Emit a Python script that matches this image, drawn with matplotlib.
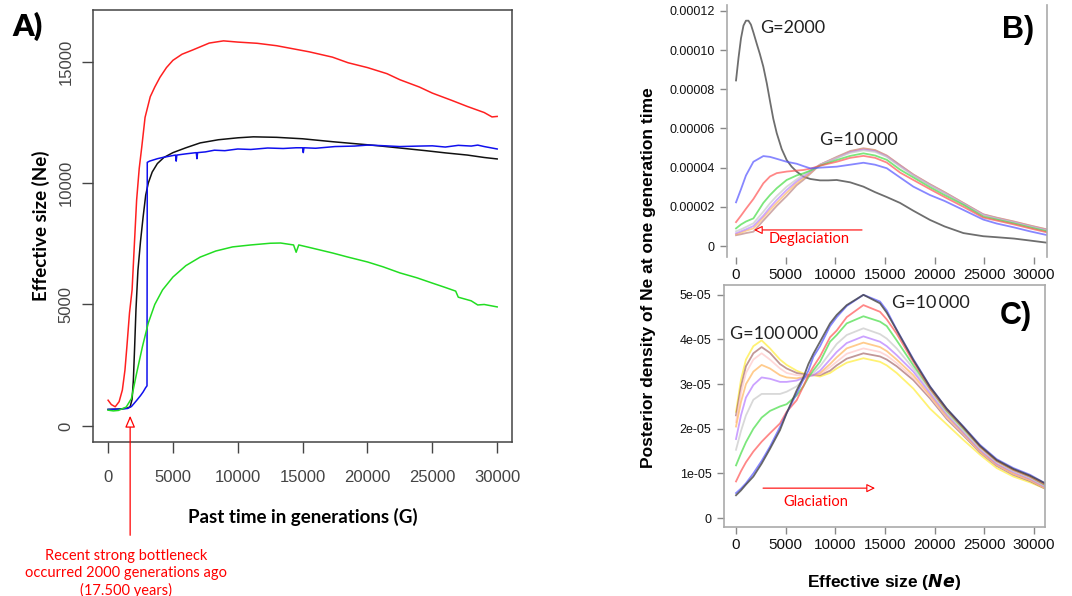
import matplotlib
matplotlib.use('Agg')
import matplotlib.pyplot as plt

plt.rcParams['font.family'] = ['Liberation Sans', 'DejaVu Sans']

# ---------------- panel A: Ne through time ----------------
a_red_x = [0, 250, 550, 850, 1100, 1300, 1450, 1650, 1850, 2000, 2200, 2400, 2600, 2850, 3250, 3600,
           4000, 4500, 5000, 5700, 6500, 7800, 8900, 10000, 11500, 13000, 14300, 15500, 17300, 18500,
           20000, 21500, 22500, 24000, 25000, 26500, 27700, 29000, 29600, 30000]
a_red_y = [1060, 880, 790, 1000, 1480, 2300, 3270, 4650, 5600, 7200, 9300, 10600, 11500, 12700, 13550,
           13950, 14350, 14750, 15050, 15300, 15470, 15760, 15850, 15800, 15750, 15650, 15520, 15400,
           15180, 14950, 14750, 14500, 14250, 13950, 13700, 13400, 13150, 12900, 12720, 12740]

a_blk_x = [0, 500, 1000, 1500, 1700, 1850, 1950, 2050, 2150, 2300, 2500, 2700, 2900, 3100, 3400, 3800,
           4300, 5000, 6000, 7100, 8500, 10000, 11200, 13000, 15000, 17300, 19000, 20500, 22500, 24500,
           26000, 27700, 29000, 30000]
a_blk_y = [680, 690, 700, 740, 790, 1100, 1900, 3300, 4800, 6400, 7600, 8600, 9500, 10000, 10450, 10800,
           11050, 11250, 11450, 11650, 11780, 11860, 11900, 11880, 11820, 11700, 11620, 11550, 11440,
           11330, 11240, 11150, 11050, 10990]

a_blu_x = [0, 800, 1500, 1800, 2200, 2500, 2700, 2900, 3000, 3020, 3200, 3500, 3800, 4200, 4700, 5200,
           5250, 5300, 6000, 6800, 6850, 6900, 7500, 8200, 9000, 10000, 11000, 12300, 13500, 14500,
           15000, 15050, 15100, 16000, 17500, 19000, 20000, 21000, 22500, 24000, 25000, 26000, 27000,
           28000, 28500, 29000, 30000]
a_blu_y = [680, 690, 720, 800, 1050, 1250, 1400, 1580, 1650, 10850, 10900, 10950, 11000, 11050, 11100,
           11150, 10900, 11150, 11200, 11250, 11000, 11250, 11280, 11350, 11330, 11400, 11380, 11440,
           11420, 11450, 11450, 11250, 11450, 11430, 11500, 11520, 11560, 11540, 11500, 11520, 11530,
           11480, 11550, 11520, 11560, 11500, 11400]

a_grn_x = [0, 400, 800, 1400, 1800, 2200, 2650, 3100, 3600, 4200, 5000, 6000, 7100, 8300, 9600, 11000,
           12500, 13300, 14300, 14500, 14700, 15500, 17300, 18500, 20000, 21200, 22500, 23800, 25000,
           26000, 26800, 27000, 28000, 28500, 29000, 30000]
a_grn_y = [650, 620, 640, 780, 1130, 2170, 3270, 4240, 5000, 5600, 6130, 6600, 6950, 7200, 7370, 7450,
           7520, 7530, 7450, 7150, 7450, 7350, 7120, 6950, 6750, 6550, 6300, 6100, 5880, 5700, 5550,
           5300, 5150, 4980, 5000, 4900]

a_xticks = [0, 5000, 10000, 15000, 20000, 25000, 30000]
a_yticks = [0, 5000, 10000, 15000]

# ---------------- panel B: posterior densities, deglaciation ----------------
# values in units of 1e-5
b_gx = [0, 250, 500, 750, 1000, 1250, 1500, 1750, 2100, 2400, 2750, 3100, 3420, 3750, 4100, 4600, 5100,
        5600, 6100, 6780, 7500, 8460, 9300, 10140, 11500, 12830, 14000, 15180, 16515, 17860, 19540,
        21000, 22900, 24900, 26240, 28000, 29600, 31300]
b_g2000 = [8.45, 9.6, 10.6, 11.25, 11.5, 11.5, 11.3, 10.9, 10.3, 9.8, 9.15, 8.3, 7.4, 6.5, 5.76, 4.95,
           4.39, 4.05, 3.8, 3.54, 3.42, 3.35, 3.35, 3.37, 3.25, 3.03, 2.75, 2.5, 2.2, 1.8, 1.33, 1.0,
           0.66, 0.5, 0.45, 0.38, 0.28, 0.17]

b_x = [0, 500, 1000, 1750, 2750, 3420, 4100, 5100, 6100, 6780, 7500, 8460, 10140, 11500, 12830, 14000,
       15180, 16515, 17860, 19540, 21000, 22900, 24900, 26240, 28000, 29600, 31300]
b_blue = [2.23, 2.9, 3.6, 4.3, 4.59, 4.55, 4.45, 4.3, 4.2, 4.08, 3.96, 4.0, 4.05, 4.15, 4.25, 4.15,
          3.97, 3.5, 3.03, 2.6, 2.3, 1.84, 1.35, 1.15, 0.95, 0.75, 0.56]
b_red = [1.22, 1.55, 1.9, 2.4, 3.2, 3.55, 3.72, 3.8, 3.85, 3.88, 3.95, 4.1, 4.3, 4.5, 4.6, 4.5,
         4.26, 3.75, 3.37, 2.9, 2.5, 2.0, 1.45, 1.3, 1.1, 0.9, 0.7]
b_green = [0.9, 1.1, 1.25, 1.41, 2.2, 2.6, 2.95, 3.37, 3.6, 3.71, 3.85, 4.1, 4.39, 4.6, 4.73, 4.62,
           4.4, 3.9, 3.5, 3.0, 2.6, 2.1, 1.5, 1.35, 1.15, 0.95, 0.75]
b_lgray = [0.75, 0.85, 0.97, 1.16, 1.75, 2.18, 2.55, 3.03, 3.4, 3.63, 3.85, 4.15, 4.5, 4.75, 4.88, 4.8,
           4.55, 4.05, 3.6, 3.1, 2.7, 2.15, 1.58, 1.4, 1.2, 1.0, 0.8]
b_violet = [0.65, 0.75, 0.85, 1.02, 1.55, 1.97, 2.35, 2.86, 3.3, 3.54, 3.8, 4.15, 4.5, 4.8, 4.93, 4.85,
            4.58, 4.1, 3.62, 3.12, 2.72, 2.17, 1.6, 1.42, 1.22, 1.02, 0.82]
b_orange = [0.6, 0.68, 0.78, 0.9, 1.45, 1.84, 2.2, 2.72, 3.2, 3.46, 3.75, 4.15, 4.52, 4.82, 4.96, 4.88,
            4.6, 4.12, 3.64, 3.14, 2.74, 2.19, 1.61, 1.44, 1.24, 1.04, 0.84]
b_brown = [0.55, 0.6, 0.66, 0.73, 1.3, 1.67, 2.05, 2.55, 3.1, 3.37, 3.7, 4.15, 4.55, 4.85, 4.99, 4.9,
           4.62, 4.13, 3.65, 3.15, 2.75, 2.2, 1.62, 1.45, 1.25, 1.05, 0.85]

# ---------------- panel C: posterior densities, glaciation ----------------
c_x = [0, 500, 1000, 1745, 2580, 3420, 4430, 5100, 6110, 6780, 7290, 7790, 8460, 9470, 10140, 11150,
       12830, 14500, 15180, 16180, 17860, 19540, 21220, 22900, 24570, 26250, 27930, 29600, 31120]
c_g10000 = [0.51, 0.62, 0.75, 0.93, 1.22, 1.55, 1.97, 2.35, 2.86, 3.15, 3.45, 3.68, 3.95, 4.36, 4.55,
            4.77, 5.0, 4.81, 4.6, 4.21, 3.54, 2.94, 2.45, 2.04, 1.62, 1.3, 1.1, 0.95, 0.78]
c_blue = [0.56, 0.66, 0.78, 1.0, 1.28, 1.6, 2.04, 2.35, 2.79, 3.1, 3.3, 3.61, 3.85, 4.3, 4.5, 4.75,
          5.0, 4.85, 4.65, 4.22, 3.56, 2.95, 2.45, 2.05, 1.64, 1.32, 1.12, 0.97, 0.78]
c_red = [0.82, 1.05, 1.25, 1.49, 1.71, 1.9, 2.12, 2.38, 2.64, 2.95, 3.2, 3.39, 3.62, 4.05, 4.2, 4.5,
         4.77, 4.62, 4.45, 4.13, 3.5, 2.9, 2.42, 2.02, 1.6, 1.28, 1.08, 0.93, 0.75]
c_green = [1.18, 1.45, 1.7, 2.0, 2.25, 2.4, 2.5, 2.55, 2.75, 2.95, 3.15, 3.31, 3.5, 3.95, 4.1, 4.36,
           4.52, 4.4, 4.3, 3.98, 3.42, 2.9, 2.4, 2.0, 1.6, 1.28, 1.08, 0.93, 0.74]
c_lgray = [1.53, 1.95, 2.3, 2.65, 2.78, 2.78, 2.78, 2.83, 2.95, 3.1, 3.18, 3.25, 3.4, 3.7, 3.9, 4.1,
           4.25, 4.12, 4.02, 3.8, 3.35, 2.85, 2.35, 1.95, 1.56, 1.25, 1.05, 0.9, 0.72]
c_violet = [1.77, 2.3, 2.7, 2.98, 3.15, 3.12, 3.05, 3.05, 3.08, 3.14, 3.18, 3.2, 3.3, 3.55, 3.72, 3.92,
            4.07, 3.95, 3.85, 3.65, 3.28, 2.8, 2.32, 1.92, 1.53, 1.22, 1.03, 0.88, 0.7]
c_orange = [2.05, 2.6, 3.0, 3.28, 3.43, 3.35, 3.2, 3.15, 3.13, 3.16, 3.19, 3.2, 3.25, 3.45, 3.6, 3.8,
            3.93, 3.83, 3.74, 3.55, 3.2, 2.75, 2.28, 1.9, 1.5, 1.2, 1.0, 0.86, 0.68]
c_pink = [2.15, 2.8, 3.25, 3.55, 3.69, 3.55, 3.35, 3.25, 3.2, 3.2, 3.2, 3.2, 3.22, 3.38, 3.5, 3.68,
          3.8, 3.72, 3.64, 3.47, 3.14, 2.72, 2.25, 1.88, 1.49, 1.19, 0.99, 0.85, 0.67]
c_brown = [2.3, 2.95, 3.4, 3.69, 3.83, 3.7, 3.45, 3.35, 3.25, 3.22, 3.2, 3.2, 3.2, 3.3, 3.42, 3.57,
           3.69, 3.62, 3.55, 3.4, 3.09, 2.68, 2.22, 1.85, 1.47, 1.17, 0.97, 0.83, 0.66]
c_yellow = [2.38, 3.1, 3.55, 3.85, 3.98, 3.8, 3.55, 3.43, 3.3, 3.24, 3.2, 3.2, 3.17, 3.25, 3.35, 3.48,
            3.58, 3.5, 3.42, 3.25, 2.9, 2.45, 2.1, 1.75, 1.42, 1.12, 0.93, 0.8, 0.66]

bc_xticks = [0, 5000, 10000, 15000, 20000, 25000, 30000]
b_yticks = [0, 2e-5, 4e-5, 6e-5, 8e-5, 1e-4, 1.2e-4]
b_ylabels = ['0', '0.00002', '0.00004', '0.00006', '0.00008', '0.00010', '0.00012']
c_yticks = [0, 1e-5, 2e-5, 3e-5, 4e-5, 5e-5]
c_ylabels = ['0', '1e-05', '2e-05', '3e-05', '4e-05', '5e-05']


def scaled(vals):
    return [v * 1e-5 for v in vals]


fig = plt.figure(figsize=(10.72, 5.96), dpi=100)

# ---- A ----
axA = fig.add_axes([0.0868, 0.2584, 0.3909, 0.7248])
axA.plot(a_red_x, a_red_y, color='#ff2020', lw=1.1)
axA.plot(a_blk_x, a_blk_y, color='#111111', lw=1.1)
axA.plot(a_blu_x, a_blu_y, color='#1010ee', lw=1.1)
axA.plot(a_grn_x, a_grn_y, color='#22dd22', lw=1.1)
axA.set_xlim(-1160, 31150)
axA.set_ylim(-660, 17120)
axA.set_xticks(a_xticks)
axA.set_yticks(a_yticks)
axA.set_yticklabels([str(v) for v in a_yticks], rotation=90, va='center')
for s in axA.spines.values():
    s.set_color('#444444')
    s.set_linewidth(1.1)
axA.tick_params(direction='out', length=8, width=1, color='#444444', labelcolor='#444444',
                labelsize=12)
axA.tick_params(axis='x', pad=12)
axA.tick_params(axis='y', pad=6)
axA.set_xlabel('Past time in generations (G)', family='Lato', fontweight='bold', fontsize=13.5,
               labelpad=17)
axA.set_ylabel('Effective size (Ne)', family='Lato', fontweight='bold', fontsize=13.5, labelpad=6)
fig.text(0.012, 0.955, 'A)', family='Lato', fontweight='heavy', fontsize=22, va='center')

axA.annotate('', xy=(1700, 420), xytext=(1700, -4500), annotation_clip=False,
             arrowprops=dict(arrowstyle='-|>,head_length=0.7,head_width=0.3', ec='red', fc='white',
                             lw=0.9, shrinkA=0, shrinkB=0))
fig.text(0.118, 0.038, 'Recent strong bottleneck\noccurred 2000 generations ago\n(17.500 years)',
         color='red', family='Lato', fontsize=10.5, ha='center', va='center', linespacing=1.25)

# ---- B ----
axB = fig.add_axes([0.6782, 0.5688, 0.2985, 0.4228])
bc_lw = 1.3
axB.plot(b_gx, scaled(b_g2000), color='#555555', lw=bc_lw, alpha=0.85)
axB.plot(b_x, scaled(b_brown), color='#b07070', lw=bc_lw, alpha=0.6)
axB.plot(b_x, scaled(b_orange), color='#ffb050', lw=bc_lw, alpha=0.6)
axB.plot(b_x, scaled(b_violet), color='#b070ff', lw=bc_lw, alpha=0.6)
axB.plot(b_x, scaled(b_lgray), color='#c8c8c8', lw=bc_lw, alpha=0.7)
axB.plot(b_x, scaled(b_green), color='#44dd44', lw=bc_lw, alpha=0.7)
axB.plot(b_x, scaled(b_red), color='#ff5555', lw=bc_lw, alpha=0.7)
axB.plot(b_x, scaled(b_blue), color='#5555ff', lw=bc_lw, alpha=0.7)
axB.set_xlim(-906, 31320)
axB.set_ylim(-5.6e-6, 1.23e-4)
axB.set_xticks(bc_xticks)
axB.set_yticks(b_yticks)
axB.set_yticklabels(b_ylabels)
axB.spines['top'].set_visible(False)
axB.spines['bottom'].set_visible(False)
for side in ('left', 'right'):
    axB.spines[side].set_color('#aaaaaa')
    axB.spines[side].set_linewidth(1.2)
axB.tick_params(direction='out', length=5, width=1, color='#888888', labelcolor='#111111')
axB.tick_params(axis='x', labelsize=11, pad=3)
axB.tick_params(axis='y', labelsize=9, pad=4)
axB.text(2400, 1.087e-4, 'G=2000', family='Lato', fontsize=13, color='#222222', va='baseline')
axB.text(8460, 5.15e-5, 'G=10\u2009000', family=['Lato', 'DejaVu Sans'], fontsize=13,
         color='#222222', va='baseline')
axB.text(0.96, 0.9, 'B)', transform=axB.transAxes, fontsize=22, fontweight='bold', ha='right',
         va='center')
axB.annotate('', xy=(1810, 8.2e-6), xytext=(12690, 8.2e-6),
             arrowprops=dict(arrowstyle='-|>,head_length=0.5,head_width=0.25', ec='red', fc='white',
                             lw=0.8, shrinkA=0, shrinkB=0))
axB.text(3320, 3.6e-6, 'Deglaciation', color='red', family='Lato', fontsize=10.5, va='center')

# ---- C ----
axC = fig.add_axes([0.6754, 0.1158, 0.2994, 0.406])
axC.plot(c_x, scaled(c_yellow), color='#ffee44', lw=bc_lw, alpha=0.75)
axC.plot(c_x, scaled(c_brown), color='#a06060', lw=bc_lw, alpha=0.65)
axC.plot(c_x, scaled(c_pink), color='#ffc8c8', lw=bc_lw, alpha=0.7)
axC.plot(c_x, scaled(c_orange), color='#ffb050', lw=bc_lw, alpha=0.65)
axC.plot(c_x, scaled(c_violet), color='#b070ff', lw=bc_lw, alpha=0.65)
axC.plot(c_x, scaled(c_lgray), color='#c8c8c8', lw=bc_lw, alpha=0.7)
axC.plot(c_x, scaled(c_green), color='#44dd44', lw=bc_lw, alpha=0.7)
axC.plot(c_x, scaled(c_red), color='#ff5555', lw=bc_lw, alpha=0.7)
axC.plot(c_x, scaled(c_blue), color='#5555ff', lw=bc_lw, alpha=0.7)
axC.plot(c_x, scaled(c_g10000), color='#444444', lw=bc_lw, alpha=0.8)
axC.set_xlim(-1208, 31118)
axC.set_ylim(-2.0e-6, 5.22e-5)
axC.set_xticks(bc_xticks)
axC.set_yticks(c_yticks)
axC.set_yticklabels(c_ylabels)
for s in axC.spines.values():
    s.set_color('#aaaaaa')
    s.set_linewidth(1.2)
axC.tick_params(direction='out', length=5, width=1, color='#888888', labelcolor='#111111')
axC.tick_params(axis='x', labelsize=11, pad=3)
axC.tick_params(axis='y', labelsize=9, pad=4)
axC.text(15700, 4.82e-5, 'G=10\u2009000', family=['Lato', 'DejaVu Sans'], fontsize=13,
         color='#222222', va='center')
axC.text(-600, 4.13e-5, 'G=100\u2009000', family=['Lato', 'DejaVu Sans'], fontsize=13,
         color='#222222', va='center')
axC.text(0.96, 0.87, 'C)', transform=axC.transAxes, fontsize=22, fontweight='bold', ha='right',
         va='center')
axC.annotate('', xy=(14000, 6.7e-6), xytext=(2720, 6.7e-6),
             arrowprops=dict(arrowstyle='-|>,head_length=0.5,head_width=0.25', ec='red', fc='white',
                             lw=0.8, shrinkA=0, shrinkB=0))
axC.text(4730, 3.6e-6, 'Glaciation', color='red', family='Lato', fontsize=10.5, va='center')
axC.set_xlabel('Effective size ($\\mathbfit{Ne}$)', fontweight='bold', fontsize=12.5, labelpad=14)

fig.text(0.605, 0.535, 'Posterior density of Ne at one generation time', rotation=90,
         fontweight='bold', fontsize=12.5, ha='center', va='center')

fig.savefig('out.png', dpi=100)
